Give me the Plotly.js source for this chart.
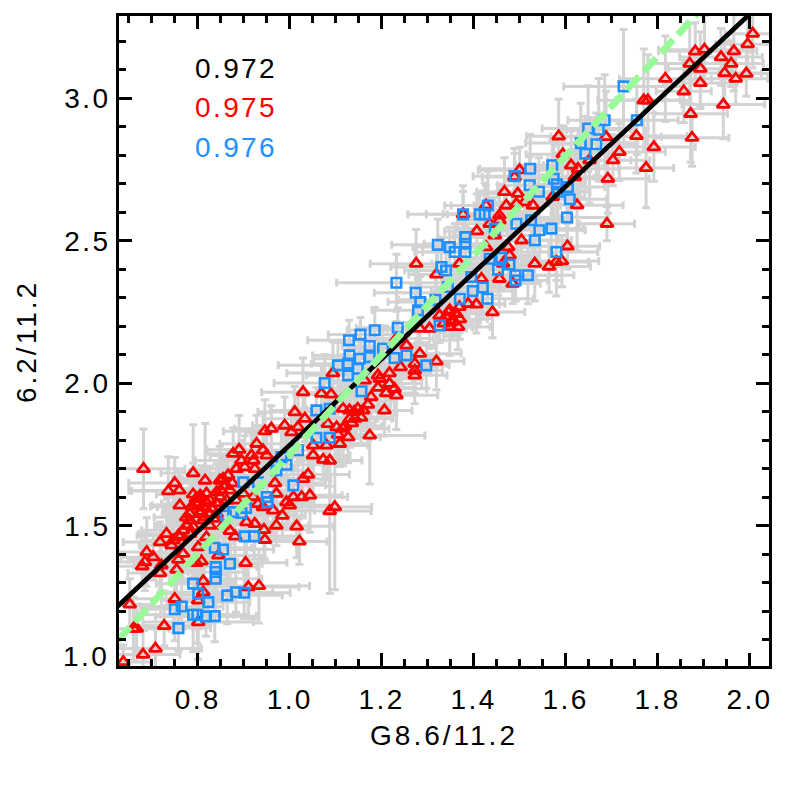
<!DOCTYPE html>
<html><head><meta charset="utf-8">
<script src="https://cdn.plot.ly/plotly-3.0.1.min.js"></script>
<style>html,body{margin:0;padding:0;background:#fff}
svg text{letter-spacing:2.4px}
svg text.xtitle, .annotation[data-index="1"] text{letter-spacing:3px}</style></head>
<body><div id="chart" style="width:786px;height:786px"></div>
<script>
const redX=[
.682,.790,.816,.750,.736,.760,.761,.787,.796,.808,
.819,.826,.812,.801,.783,.776,.768,.732,.718,.761,
.743,.783,.758,.841,.855,.866,.848,.884,.902,.924,
.895,.877,.890,.917,.928,.942,.950,.921,.946,.960,
.989,1.004,1.018,1.011,1.033,1.102,1.131,1.142,1.116,1.127,
1.109,1.080,1.051,1.051,1.073,1.087,1.040,1.029,1.008,1.026,
1.044,.993,1.000,.968,.971,.931,.942,.964,.984,.971,
1.015,1.021,.944,.946,.924,.906,.881,.870,.855,.812,
.826,.819,.801,.845,.808,.797,.754,.758,.768,.718,
.721,.689,.703,.685,.679,.904,.910,.933,.812,.812,
.801,.750,.652,.667,.660,.727,.801,.681,.708,.638,
1.087,1.098,.863,.870,.826,.790,.747,.848,.899,.921,
.884,.783,.805,.841,.795,.805,.820,.830,.840,.775,
1.275,1.319,1.377,1.407,1.446,1.456,1.471,1.504,1.533,1.564,
1.580,1.456,1.485,1.441,1.406,1.388,1.362,1.369,1.348,1.355,
1.366,1.348,1.326,1.304,1.283,1.254,1.232,1.283,1.319,1.272,
1.241,1.272,1.272,1.217,1.192,1.217,1.192,1.210,1.232,1.228,
1.177,1.196,1.163,1.094,1.069,1.090,1.029,1.206,1.174,1.148,
1.130,1.116,1.083,1.456,1.475,1.478,1.464,1.427,1.417,1.369,
1.435,1.427,1.493,1.529,2.007,1.996,1.966,1.938,1.960,1.946,
1.970,1.993,1.902,1.882,1.870,1.893,1.817,1.857,1.893,1.943,
1.872,1.875,1.770,1.779,1.754,1.792,1.775,1.717,1.703,1.692,
1.688,1.585,1.594,1.612,1.627,1.620,1.625,1.690,1.604,1.592,
1.489,1.500,1.467,1.496,1.511,1.652,1.572,
1.340,1.352,1.360,1.345,1.370,1.335,.790,.805,.815,.835,
1.140,1.155,1.135,1.120,1.105,1.160,1.170,.850,.860,.875];
const redY=[
1.700,1.685,1.659,1.650,1.622,1.624,1.572,1.568,1.595,1.601,
1.613,1.589,1.566,1.577,1.519,1.501,1.484,1.472,1.443,1.460,
1.431,1.472,1.466,1.618,1.665,1.677,1.659,1.700,1.706,1.700,
1.729,1.753,1.767,1.747,1.788,1.765,1.747,1.729,1.832,1.841,
1.852,1.829,1.846,1.899,1.876,1.846,1.876,1.876,1.841,1.811,
1.788,1.782,1.782,1.747,1.732,1.729,1.680,1.665,1.601,1.601,
1.607,1.583,1.572,1.650,1.613,1.577,1.566,1.554,1.536,1.501,
1.498,1.445,1.486,1.451,1.507,1.513,1.463,1.482,1.501,1.519,
1.501,1.460,1.425,1.396,1.375,1.370,1.346,1.381,1.402,1.334,
1.361,1.408,1.390,1.373,1.358,1.370,1.285,1.289,1.306,1.267,
1.238,1.244,1.224,1.139,1.139,1.149,1.162,1.048,1.069,1.022,
1.552,1.566,1.589,1.624,1.542,1.496,1.449,1.601,1.613,1.601,
1.589,1.542,1.542,1.542,1.580,1.550,1.580,1.560,1.580,1.530,
2.420,2.382,2.593,2.534,2.519,2.589,2.624,2.502,2.420,2.410,
2.426,2.367,2.350,2.250,2.277,2.279,2.244,2.268,2.256,2.221,
2.198,2.198,2.238,2.192,2.192,2.133,2.157,2.104,2.077,2.069,
2.057,2.045,2.028,2.036,2.028,1.999,1.985,1.966,1.958,1.981,
1.952,2.016,2.010,2.036,1.964,1.961,1.969,1.905,1.817,1.911,
1.905,1.911,1.858,2.572,2.478,2.449,2.420,2.478,2.367,2.420,
2.560,2.624,2.630,2.624,3.227,3.190,3.166,3.145,3.122,3.089,
3.069,3.087,3.171,3.165,3.122,3.104,3.069,3.025,3.054,2.978,
2.946,2.862,2.993,2.993,2.868,2.829,2.756,2.812,2.783,2.718,
2.865,2.867,2.804,2.765,2.753,2.724,2.625,2.560,2.481,2.429,
2.724,2.748,2.672,2.666,2.636,2.783,2.654,
2.235,2.215,2.245,2.250,2.225,2.210,1.610,1.605,1.530,1.525,
1.900,1.880,1.860,1.850,1.820,1.905,1.925,1.625,1.640,1.650];
const redXErr=[
.09,.07,.06,.10,.08,.11,.06,.09,.05,.08,
.07,.06,.10,.08,.05,.07,.09,.06,.08,.05,
.07,.06,.09,.08,.11,.06,.07,.09,.05,.08,
.10,.06,.07,.09,.08,.05,.07,.06,.09,.08,
.07,.10,.06,.08,.09,.07,.06,.08,.10,.07,
.06,.09,.07,.08,.05,.07,.09,.06,.08,.10,
.07,.06,.09,.11,.07,.08,.06,.09,.05,.07,
.08,.06,.10,.07,.09,.06,.08,.07,.09,.06,
.08,.07,.06,.10,.07,.09,.06,.11,.08,.07,
.06,.10,.07,.08,.06,.09,.11,.11,.07,.09,
.08,.10,.05,.07,.09,.06,.12,.08,.10,.06,
.09,.08,.07,.06,.09,.08,.07,.06,.10,.07,
.08,.06,.07,.09,.06,.08,.07,.06,.09,.07,
.10,.06,.08,.07,.09,.06,.07,.08,.06,.09,
.07,.08,.06,.07,.05,.08,.06,.07,.05,.06,
.07,.05,.06,.08,.07,.06,.08,.09,.06,.07,
.08,.06,.07,.09,.06,.07,.08,.06,.09,.07,
.05,.07,.08,.10,.06,.07,.09,.06,.12,.07,
.06,.08,.07,.09,.07,.06,.08,.10,.07,.06,
.07,.09,.08,.06,.06,.07,.05,.09,.07,.08,
.07,.06,.10,.08,.09,.07,.10,.06,.08,.09,
.08,.08,.10,.07,.11,.09,.06,.10,.08,.09,
.12,.07,.08,.06,.09,.07,.10,.06,.07,.08,
.07,.09,.06,.08,.07,.09,.07,
.05,.06,.05,.07,.06,.05,.08,.07,.06,.09,
.06,.07,.05,.08,.06,.07,.05,.09,.07,.06];
const redYErr=[
.14,.17,.20,.09,.12,.07,.10,.13,.08,.11,
.09,.12,.07,.10,.14,.08,.11,.09,.07,.12,
.10,.08,.13,.10,.07,.09,.12,.08,.11,.10,
.07,.09,.12,.08,.10,.13,.07,.09,.11,.08,
.10,.07,.12,.09,.08,.11,.10,.07,.13,.09,
.08,.12,.10,.14,.07,.09,.11,.08,.10,.07,
.13,.09,.08,.10,.07,.12,.08,.10,.09,.07,
.11,.08,.10,.07,.09,.12,.08,.10,.07,.09,
.12,.08,.10,.09,.07,.11,.13,.08,.10,.07,
.09,.12,.08,.10,.07,.09,.11,.13,.09,.07,
.10,.12,.09,.08,.11,.07,.13,.09,.08,.06,
.29,.29,.10,.08,.12,.09,.07,.11,.08,.10,
.07,.09,.13,.08,.10,.07,.09,.12,.08,.10,
.12,.10,.08,.13,.09,.11,.07,.10,.13,.09,
.12,.09,.07,.09,.10,.08,.07,.09,.06,.07,
.08,.10,.06,.07,.05,.08,.06,.09,.10,.07,
.06,.08,.10,.07,.09,.06,.08,.07,.12,.09,
.07,.08,.06,.11,.10,.07,.12,.09,.17,.07,
.06,.08,.09,.10,.13,.08,.07,.11,.09,.12,
.09,.07,.10,.08,.12,.09,.14,.10,.08,.11,
.09,.08,.12,.10,.14,.13,.15,.11,.09,.12,
.17,.10,.18,.16,.13,.12,.14,.10,.09,.12,
.16,.13,.10,.12,.14,.09,.16,.06,.08,.09,
.10,.08,.12,.07,.09,.15,.11,
.07,.06,.08,.05,.07,.06,.11,.09,.08,.10,
.07,.09,.06,.08,.10,.07,.09,.12,.08,.10];
const blueX=[
.899,1.008,.950,.952,.905,.895,.877,.861,.931,.993,
.971,.982,1.018,1.058,1.087,1.058,1.087,.902,.923,.837,
.855,.870,.839,.839,.839,.790,.801,.823,.864,.883,
.901,.750,.765,.790,.799,.818,.837,.758,1.232,1.274,
1.284,1.279,1.317,1.370,1.398,1.420,1.430,1.431,1.377,1.413,
1.424,1.322,1.348,1.359,1.382,1.382,1.382,1.446,1.493,1.525,
1.543,1.569,1.533,1.580,1.435,1.460,1.478,1.453,1.330,1.340,
1.344,1.395,1.491,1.491,1.518,1.326,1.235,1.185,1.154,1.129,
1.174,1.203,1.130,1.152,1.105,1.127,1.148,1.127,1.254,1.228,
1.297,1.076,1.156,1.174,1.726,1.755,1.649,1.672,1.685,1.633,
1.667,1.643,1.571,1.523,1.489,1.522,1.574,1.581,1.605,1.542,
1.583,1.609,1.603];
const blueY=[
1.653,1.642,1.601,1.583,1.563,1.545,1.548,1.536,1.653,1.714,
1.694,1.741,1.765,1.905,1.911,1.809,1.809,1.463,1.463,1.423,
1.417,1.367,1.355,1.338,1.314,1.297,1.262,1.232,1.256,1.267,
1.265,1.207,1.217,1.188,1.188,1.182,1.183,1.141,2.353,2.318,
2.285,2.256,2.293,2.297,2.324,2.336,2.297,2.624,2.593,2.593,
2.593,2.486,2.478,2.461,2.513,2.490,2.461,2.543,2.560,2.572,
2.537,2.543,2.502,2.461,2.437,2.441,2.417,2.399,2.408,2.396,
2.338,2.373,2.379,2.361,2.379,2.203,2.195,2.186,2.171,2.151,
2.131,2.122,2.098,2.086,2.063,2.069,2.051,2.028,2.098,2.089,
2.063,2.001,1.972,2.092,3.042,2.923,2.894,2.890,2.923,2.843,
2.839,2.806,2.765,2.753,2.727,2.695,2.718,2.698,2.689,2.672,
2.672,2.646,2.582];
const blueXErr=[
.09,.07,.10,.08,.06,.09,.07,.11,.06,.08,
.07,.09,.06,.10,.08,.07,.09,.12,.10,.08,
.11,.07,.09,.06,.10,.08,.07,.09,.12,.08,
.10,.07,.09,.12,.08,.11,.09,.07,.13,.09,
.07,.10,.08,.06,.09,.07,.10,.08,.12,.07,
.09,.10,.08,.07,.06,.09,.11,.08,.07,.09,
.10,.07,.08,.09,.06,.08,.10,.07,.11,.09,
.08,.06,.09,.07,.10,.07,.09,.06,.07,.09,
.06,.07,.08,.10,.13,.08,.06,.09,.07,.08,
.05,.11,.07,.06,.13,.09,.10,.07,.08,.12,
.09,.07,.08,.11,.09,.07,.10,.06,.08,.09,
.07,.08,.09];
const blueYErr=[
.09,.07,.11,.08,.10,.07,.09,.12,.08,.10,
.07,.09,.12,.08,.10,.07,.09,.11,.08,.13,
.09,.07,.11,.08,.10,.09,.12,.08,.10,.07,
.09,.11,.08,.13,.10,.07,.09,.08,.10,.07,
.09,.11,.08,.10,.06,.09,.07,.12,.10,.08,
.11,.09,.07,.10,.08,.06,.09,.11,.12,.08,
.13,.09,.07,.10,.08,.11,.06,.09,.10,.07,
.08,.06,.09,.07,.10,.06,.07,.08,.06,.07,
.06,.08,.07,.06,.08,.07,.05,.09,.07,.06,
.08,.10,.07,.06,.20,.12,.15,.18,.16,.14,
.11,.13,.09,.12,.08,.10,.13,.11,.09,.12,
.10,.08,.12];
const blackLineX=[0.626,2.0];
const blackLineY=[1.218,3.295];
const greenLineX=[0.626,1.885];
const greenLineY=[1.098,3.295];
const xTicks=[0.8,1.0,1.2,1.4,1.6,1.8,2.0];
const xTickText=['0.8','1.0','1.2','1.4','1.6','1.8','2.0'];
const yTicks=[1.5,2.0,2.5,3.0];
const yTickText=['1.5','2.0','2.5','3.0'];
const scoreLabels=['0.972','0.975','0.976'];
const scoreColors=['#000000','#ff0000','#1e90ff'];

const GRAY='#d3d3d3', F='Liberation Sans', SZ=28;
function fnt(c){return {family:F,size:SZ,color:c};}
function errTrace(x,y,ex,ey){
  return {x,y,type:'scatter',mode:'markers',marker:{size:1,opacity:0},hoverinfo:'skip',
    error_x:{type:'data',array:ex,visible:true,color:GRAY,thickness:3,width:4},
    error_y:{type:'data',array:ey,visible:true,color:GRAY,thickness:3,width:4}};
}
const traces=[
  errTrace(redX,redY,redXErr,redYErr),
  errTrace(blueX,blueY,blueXErr,blueYErr),
  {x:redX,y:redY,type:'scatter',mode:'markers',marker:{symbol:'triangle-up-open',size:11,color:'#ff0000',line:{width:2.8,color:'#ff0000'}}},
  {x:blueX,y:blueY,type:'scatter',mode:'markers',marker:{symbol:'square-open',size:9.5,color:'#1e90ff',line:{width:2.6,color:'#1e90ff'}}},
  {x:blackLineX,y:blackLineY,type:'scatter',mode:'lines',line:{color:'#000',width:4.8}},
  {x:greenLineX,y:greenLineY,type:'scatter',mode:'lines',line:{color:'#98fb98',width:7,dash:'18px,7px'}}
];
const axisCommon={showgrid:false,zeroline:false,showline:true,linecolor:'#000',linewidth:3,mirror:'ticks',
  ticks:'inside',tickcolor:'#000',tickwidth:2.8,ticklen:13,tickmode:'array',
  tickfont:fnt('#000')};
const layout={
  width:786,height:786,showlegend:false,paper_bgcolor:'#fff',plot_bgcolor:'#fff',
  margin:{l:119.2,r:16.5,t:15.5,b:119.8},
  xaxis:Object.assign({},axisCommon,{range:[0.6287,2.0424],tickvals:xTicks,ticktext:xTickText,
    ticklabelstandoff:6,
    minor:{dtick:0.05,ticks:'inside',ticklen:7,tickwidth:2.8,tickcolor:'#000',showgrid:false},
    title:{text:'G8.6/11.2',font:fnt('#000'),standoff:12}}),
  yaxis:Object.assign({},axisCommon,{range:[1.008,3.289],tickvals:yTicks,ticktext:yTickText,
    minor:{dtick:0.1,ticks:'inside',ticklen:7,tickwidth:2.8,tickcolor:'#000',showgrid:false}}),
  annotations:[
    {text:'1.0',xref:'paper',x:0,xanchor:'right',xshift:-8,yref:'paper',y:0,yanchor:'bottom',yshift:-8,showarrow:false,font:fnt('#000')},
    {text:'6.2/11.2',xref:'paper',x:-0.1415,xanchor:'center',yref:'paper',y:0.499,yanchor:'middle',textangle:-90,showarrow:false,font:fnt('#000')},
    ...scoreLabels.map((t,i)=>({text:t,xref:'paper',yref:'paper',x:0.114,y:[0.9185,0.859,0.797][i],
      xanchor:'left',yanchor:'middle',showarrow:false,font:fnt(scoreColors[i])}))
  ]
};
Plotly.newPlot('chart',traces,layout,{displayModeBar:false,staticPlot:true});
</script></body></html>
